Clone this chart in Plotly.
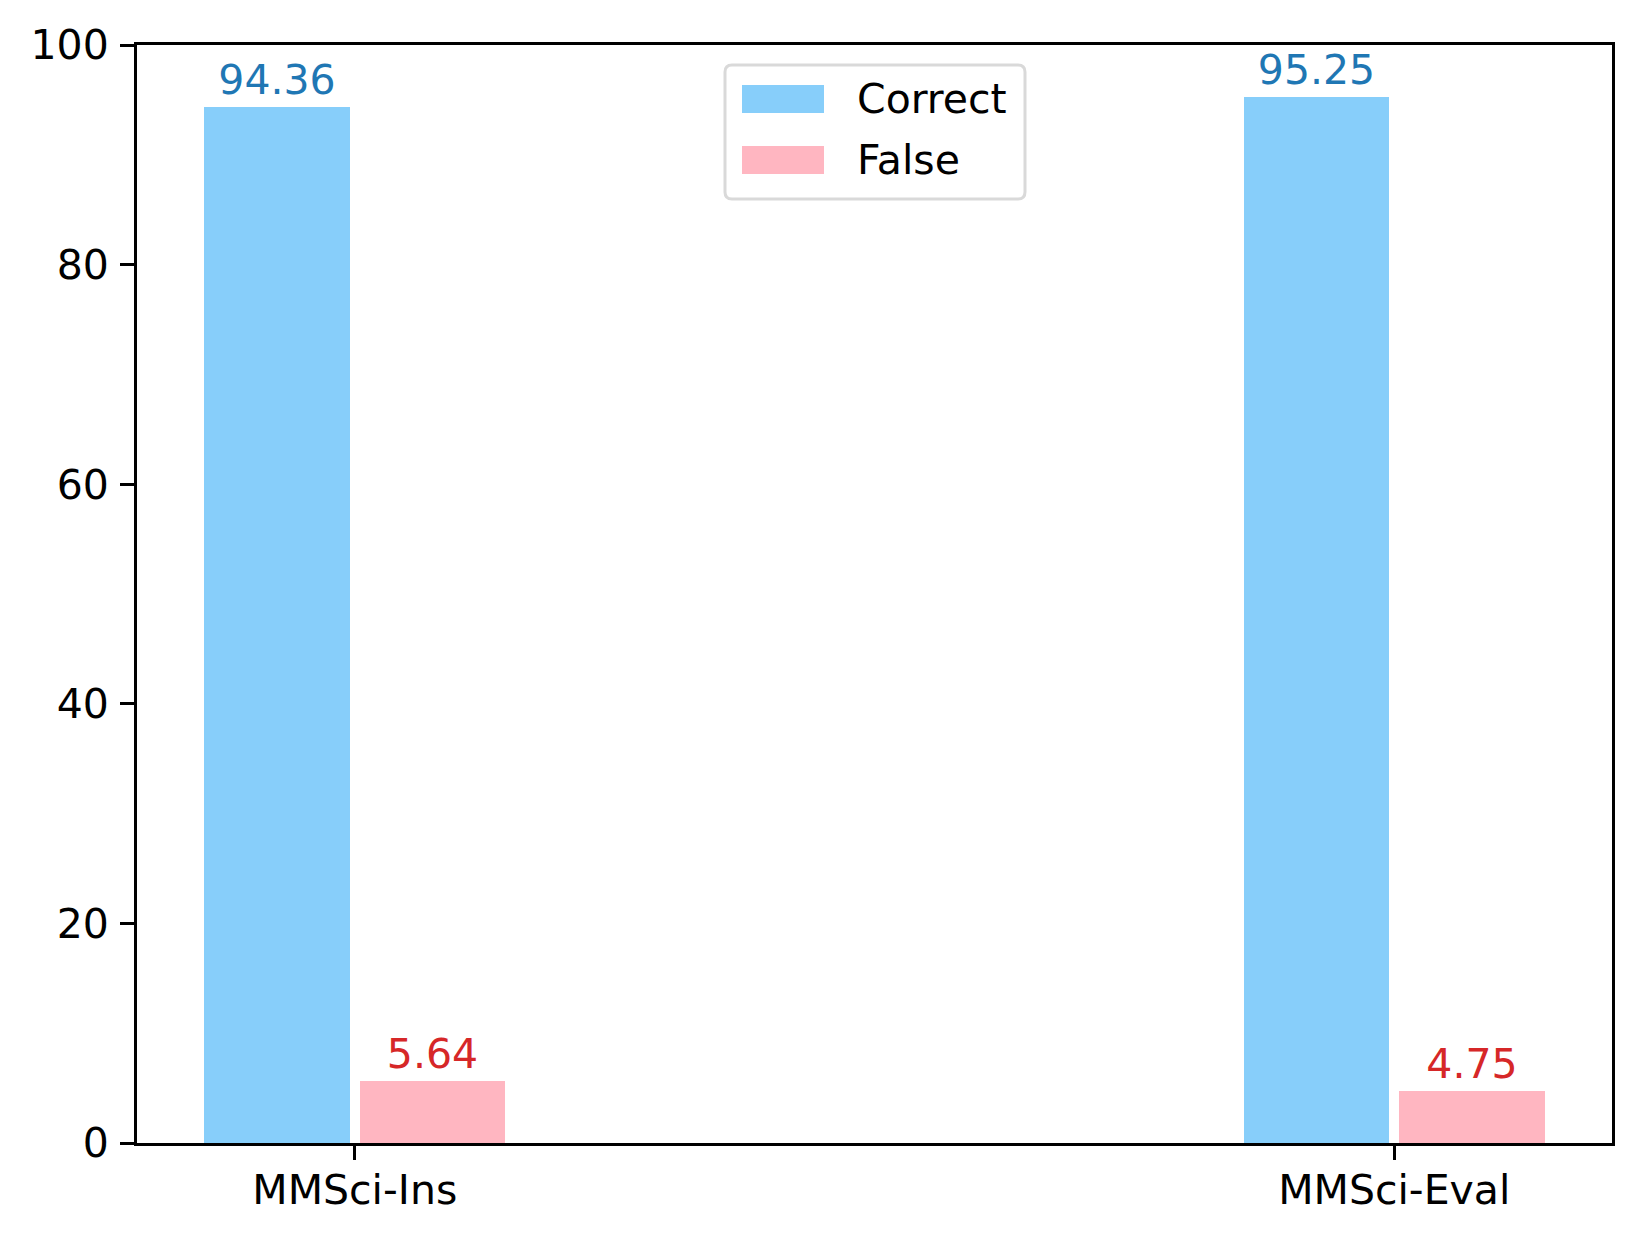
import plotly.graph_objects as go

categories = ["MMSci-Ins", "MMSci-Eval"]
correct_values = [94.36, 95.25]
false_values = [5.64, 4.75]
series_names = ["Correct", "False"]
y_ticks = [0, 20, 40, 60, 80, 100]

# the page body adds an 8px margin, so the figure is made 8px smaller and
# every page-pixel position below is shifted by OFF
OFF = 8
W, H = 1642 - OFF, 1243 - OFF
L, R, T, B = 137 - OFF, 30, 45 - OFF, 100
FONT = "DejaVu Sans"
FS = 41
BAR_COLORS = ["#87CEFA", "#FFB6C1"]
LABEL_COLORS = ["#1f77b4", "#d62728"]


def px_to_paper(x, y):
    x, y = x - OFF, y - OFF
    return (x - L) / (W - L - R), (H - B - y) / (H - T - B)


def rounded_rect(x0, y0, x1, y1, r):
    p = lambda x, y: "%.5f,%.5f" % px_to_paper(x, y)
    return ("M" + p(x0 + r, y0) + " L" + p(x1 - r, y0) + " Q" + p(x1, y0) + " " + p(x1, y0 + r)
            + " L" + p(x1, y1 - r) + " Q" + p(x1, y1) + " " + p(x1 - r, y1)
            + " L" + p(x0 + r, y1) + " Q" + p(x0, y1) + " " + p(x0, y1 - r)
            + " L" + p(x0, y0 + r) + " Q" + p(x0, y0) + " " + p(x0 + r, y0) + " Z")


x_pos = list(range(len(categories)))

fig = go.Figure()
for name, vals, color, lcolor, off in zip(series_names, [correct_values, false_values],
                                          BAR_COLORS, LABEL_COLORS, [-0.145, 0.005]):
    fig.add_trace(go.Bar(
        x=x_pos, y=vals, name=name, width=0.14, offset=off,
        marker=dict(color=color, line=dict(width=0)),
        text=["%.2f" % v for v in vals], textposition="outside",
        textfont=dict(color=lcolor, size=FS, family=FONT),
        cliponaxis=False, showlegend=False,
    ))

# legend drawn by hand to get matplotlib-like wide swatches
shapes = [dict(type="path", xref="paper", yref="paper", path=rounded_rect(725, 65, 1025, 199, 7),
               line=dict(color="#d9d9d9", width=3), fillcolor="rgba(255,255,255,0.8)")]
annotations = []
for i, (name, color) in enumerate(zip(series_names, BAR_COLORS)):
    yc = 99 + i * 61
    x0, y0 = px_to_paper(742, yc - 14)
    x1, y1 = px_to_paper(824, yc + 14)
    shapes.append(dict(type="rect", xref="paper", yref="paper", x0=x0, x1=x1, y0=y0, y1=y1,
                       fillcolor=color, line=dict(width=0)))
    tx, ty = px_to_paper(855, yc)
    annotations.append(dict(x=tx, y=ty, xref="paper", yref="paper", text=name, showarrow=False,
                            xanchor="left", yanchor="middle",
                            font=dict(size=FS, color="black", family=FONT)))

axis_common = dict(showline=True, linecolor="black", linewidth=3, mirror=True, ticks="outside",
                   ticklen=14, tickwidth=3, tickcolor="black", showgrid=False, zeroline=False,
                   tickfont=dict(size=FS, color="black", family=FONT))

fig.update_layout(
    width=W, height=H,
    margin=dict(l=L, r=R, t=T, b=B),
    plot_bgcolor="white", paper_bgcolor="white",
    font=dict(family=FONT, size=FS, color="black"),
    xaxis=dict(range=[-0.2095, 1.2095], tickvals=x_pos, ticktext=categories,
               ticklabelstandoff=-5, **axis_common),
    yaxis=dict(range=[0, 100], tickvals=y_ticks, ticklabelstandoff=3, **axis_common),
    shapes=shapes, annotations=annotations,
    showlegend=False, bargap=0,
)

fig.write_html("out.html")
